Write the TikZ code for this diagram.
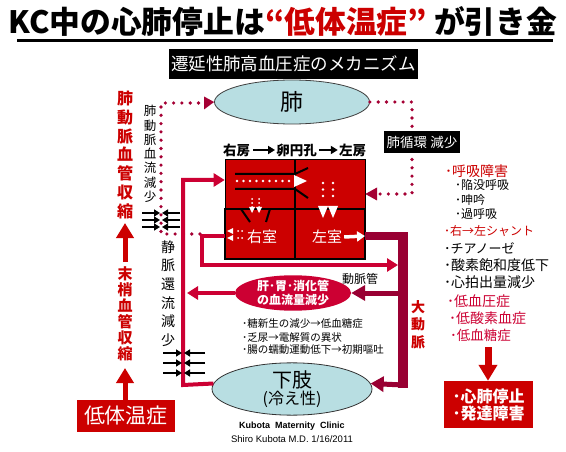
\documentclass[tikz,border=0pt]{standalone}
\usepackage{fontspec}
\setmainfont{Noto Sans CJK JP}
\newfontfamily\lib{Liberation Sans}
\usetikzlibrary{arrows.meta,shapes.geometric}
\definecolor{kred}{HTML}{CC0000}
\definecolor{crim}{HTML}{CC0033}
\definecolor{maro}{HTML}{990033}
\definecolor{dotc}{HTML}{A50034}
\definecolor{lblue}{HTML}{B8DEE2}
\newcommand{\fs}[1]{\fontsize{#1}{#1}\selectfont}
\begin{document}
\begin{tikzpicture}[x=1pt,y=-1pt,
  dotl/.style={draw=dotc, line width=3.6pt, line cap=round, dash pattern=on 0pt off 8.3pt},
  dotw/.style={draw=white, line width=2.6pt, line cap=round, dash pattern=on 0pt off 6.5pt},
  dotws/.style={draw=white, line width=2pt, line cap=round, dash pattern=on 0pt off 4pt},
  blkarr/.style={draw=black, line width=2pt, -{Triangle[length=6pt,width=7pt]}},
  redline/.style={draw=crim, line width=4pt, -{Triangle[length=11pt,width=13pt]}},
  bigred/.style={draw=kred, line width=6pt, -{Triangle[length=15pt,width=17pt]}},
  blackbox/.style={fill=black, text=white, inner sep=0},
  redbox/.style={fill=kred, text=white, inner sep=0},
  vtxt/.style={align=center, inner sep=0},
  item/.style={anchor=west, inner sep=0},
]
\useasboundingbox (0,0) rectangle (566,452);
\fill[white] (0,0) rectangle (566,452);

% title
\node[anchor=base west, inner sep=0] (title) at (8,34)
  {\resizebox{549pt}{!}{\fs{30}\bfseries KC中の心肺停止は\textcolor{kred}{“低体温症”} が引き金}};
\draw[line width=3pt] (17,40.5) -- (553,40.5);

% mechanism box
\node[blackbox, minimum width=249pt, minimum height=30pt, font=\fs{17.5}] (mech) at (293.5,64) {遷延性肺高血圧症のメカニズム};

% lung
\node[ellipse, draw=black!75, line width=0.8pt, fill=lblue, minimum width=155pt, minimum height=44pt, inner sep=0, font=\fs{23}] (lung) at (292,102) {肺};

% heart
\node[fill=kred, draw=black, line width=0.6pt, minimum width=140pt, minimum height=100pt, inner sep=0] (heart) at (295,209) {};
\draw[line width=2pt] (225,209) rectangle (365,259);
\draw[line width=2pt] (295,159) -- (295,259);
\draw[line width=2pt] (235,174) -- (295,174) -- (308,168);
\draw[line width=2pt] (235,189) -- (295,189) -- (308,198);
\draw[line width=2pt] (241,209) -- (250,222);
\draw[line width=2pt] (270,209) -- (266,222);
% white dotted arrows in heart
\draw[dotw] (237,181) -- (292,181);
\fill[white] (294,175) -- (307,181) -- (294,187) -- cycle;
\draw[dotws] (252,199) -- (252,207);
\draw[dotws] (259,199) -- (259,207);
\fill[white] (249,207) -- (252,213) -- (255,207) -- cycle;
\fill[white] (256,207) -- (259,213) -- (262,207) -- cycle;
\draw[dotw] (323,183) -- (323,200);
\draw[dotw] (333,183) -- (333,200);
\fill[white] (318,206) -- (323,218) -- (328,206) -- cycle;
\fill[white] (328,206) -- (333,218) -- (338,206) -- cycle;
\draw[dotws] (242,231) -- (236,231);
\draw[dotws] (242,238) -- (236,238);
\fill[white] (233,228) -- (227,231) -- (233,234) -- cycle;
\fill[white] (233,235) -- (227,238) -- (233,241) -- cycle;
\node[text=white, font=\fs{15}, inner sep=0] (rv) at (262,237) {右室};
\node[text=white, font=\fs{15}, inner sep=0] (lv) at (327,237) {左室};
\draw[white, line width=3.5pt, -{Triangle[length=8pt,width=10pt]}] (lv.east) ++(2,0) -- (365,236);

% heart header
\node[font=\bfseries\fs{13.5}, inner sep=0] (ra) at (236.5,150) {右房};
\node[font=\bfseries\fs{13.5}, inner sep=0] (fo) at (296.5,150) {卵円孔};
\node[font=\bfseries\fs{13.5}, inner sep=0] (la) at (352.5,150) {左房};
\draw[line width=2.2pt, -{Triangle[length=7pt,width=8pt]}] (ra.east) ++(3,0) -- ([xshift=-1pt]fo.west);
\draw[line width=2.2pt, -{Triangle[length=7pt,width=8pt]}] (fo.east) ++(2,0) -- ([xshift=-1pt]la.west);

% pulmonary dotted circuit
\draw[dotl] (200,234) -- (161,234) -- (161,103) -- (203,103);
\fill[dotc] (204,96.5) -- (lung.west) -- (204,109.5) -- cycle;
\draw[dotl] (lung.east) -- (412,102) -- (412,194) -- (378,194);
\fill[dotc] (377,187.5) -- (heart.east |- 0,194) -- (377,200.5) -- cycle;
\node[blackbox, minimum width=76pt, minimum height=22pt, font=\fs{13.5}] (pc) at (422,142) {肺循環 減少};

% ductus line
\draw[redline, line join=miter] (heart.west |- 0,236) -- (202,236) -- (202,265) -- (398,265);

% aorta
\draw[maro, line width=8pt] (heart.east |- 0,236) -- (408,236);
\draw[maro, line width=10pt] (403,232) -- (403,388);

% lower limb
\node[ellipse, draw=black!80, line width=0.8pt, fill=lblue, minimum width=160pt, minimum height=46pt, inner sep=0, align=center] (limb) at (292,389)
  {\fontsize{20}{20}\selectfont 下肢\\[1pt]\fontsize{16}{16}\selectfont (冷え性)};
\draw[maro, line width=5pt, -{Triangle[length=13pt,width=15pt]}] (403,385) -- (limb.4);
\draw[redline, line join=miter] (limb.176) -- (183,385) -- (183,180) -- (heart.west |- 0,180);

% liver
\node[ellipse, fill=crim, minimum width=116pt, minimum height=32pt, inner sep=0, text=white, font=\bfseries\fontsize{12}{13.5}\selectfont, align=center] (liver) at (293,293) {肝･胃･消化管\\の血流量減少};
\draw[maro, line width=5pt, -{Triangle[length=14pt,width=15pt]}] (398,293) -- (liver.east);
\draw[redline] (liver.west) -- (187,293);
\node[font=\fs{12}, inner sep=0] (da) at (360,279) {動脈管};

% liver consequences
\node[item, font=\fs{10.5}] (c1) at (242,323.5) {･糖新生の減少→低血糖症};
\node[item, font=\fs{10.5}] (c2) at (242,337.5) {･乏尿→電解質の異状};
\node[item, font=\fs{10.5}] (c3) at (242,349.5) {･腸の蠕動運動低下→初期嘔吐};

% black converging arrows
\foreach \yy in {213,220,227} {
  \draw[blkarr] (142,\yy) -- (160,\yy);
  \draw[blkarr] (180,\yy) -- (162,\yy);
}
\foreach \yy in {353,363,373} {
  \draw[blkarr] (163,\yy) -- (182,\yy);
  \draw[blkarr] (205,\yy) -- (184,\yy);
}

% vertical texts
\node[vtxt, font=\fontsize{12.5}{14.3}\selectfont] (pa) at (150,154) {肺\\動\\脈\\血\\流\\減\\少};
\node[vtxt, font=\fontsize{14}{18.6}\selectfont] (vn) at (168,293.5) {静\\脈\\還\\流\\減\\少};
\node[vtxt, text=kred, font=\bfseries\fontsize{16}{18.8}\selectfont] (pv) at (125,155) {肺\\動\\脈\\血\\管\\収\\縮};
\node[vtxt, text=kred, font=\bfseries\fontsize{15}{16}\selectfont] (pv2) at (125,314) {末\\梢\\血\\管\\収\\縮};
\node[vtxt, text=kred, font=\bfseries\fontsize{14}{17.5}\selectfont] (ao) at (418,324.5) {大\\動\\脈};

% hypothermia box and arrows
\node[redbox, minimum width=98pt, minimum height=32pt, font=\fs{21}] (low) at (126,416) {低体温症};
\draw[bigred, line width=5pt] (low.north -| 125,0) -- (125,368);
\draw[bigred, line width=5pt] (125,262) -- (125,223);

% right list
\node[item, text=kred, font=\fs{14}] at (445,171) {･呼吸障害};
\node[item, font=\fs{12}] at (455,185) {･陥没呼吸};
\node[item, font=\fs{12}] at (455,200) {･呻吟};
\node[item, font=\fs{12}] at (455,214) {･過呼吸};
\node[item, text=kred, font=\fs{12}] at (444,231) {･右→左シャント};
\node[item, font=\fs{13}] at (444,248) {･チアノーゼ};
\node[item, font=\fs{14}] at (444,265) {･酸素飽和度低下};
\node[item, font=\fs{14}] at (444,282) {･心拍出量減少};
\node[item, text=crim, font=\fs{14}] at (447,301) {･低血圧症};
\node[item, text=crim, font=\fs{14}] at (449,318) {･低酸素血症};
\node[item, text=crim, font=\fs{13.5}] at (450,335) {･低血糖症};

\node[redbox, minimum width=89pt, minimum height=47pt, font=\bfseries\fontsize{16}{17}\selectfont, align=left] (res) at (488.5,404.5) {･心肺停止\\･発達障害};
\draw[bigred, line width=7pt, -{Triangle[length=16pt,width=18pt]}] (488,347) -- (res.north -| 488,0);

% credits
\node[font=\lib\bfseries\fs{9}, inner sep=0] (cr1) at (292,426) {Kubota\ \ Maternity\ \ Clinic};
\node[font=\lib\fs{9.5}, inner sep=0] (cr2) at (292,439) {Shiro Kubota M.D. 1/16/2011};
\end{tikzpicture}
\end{document}
